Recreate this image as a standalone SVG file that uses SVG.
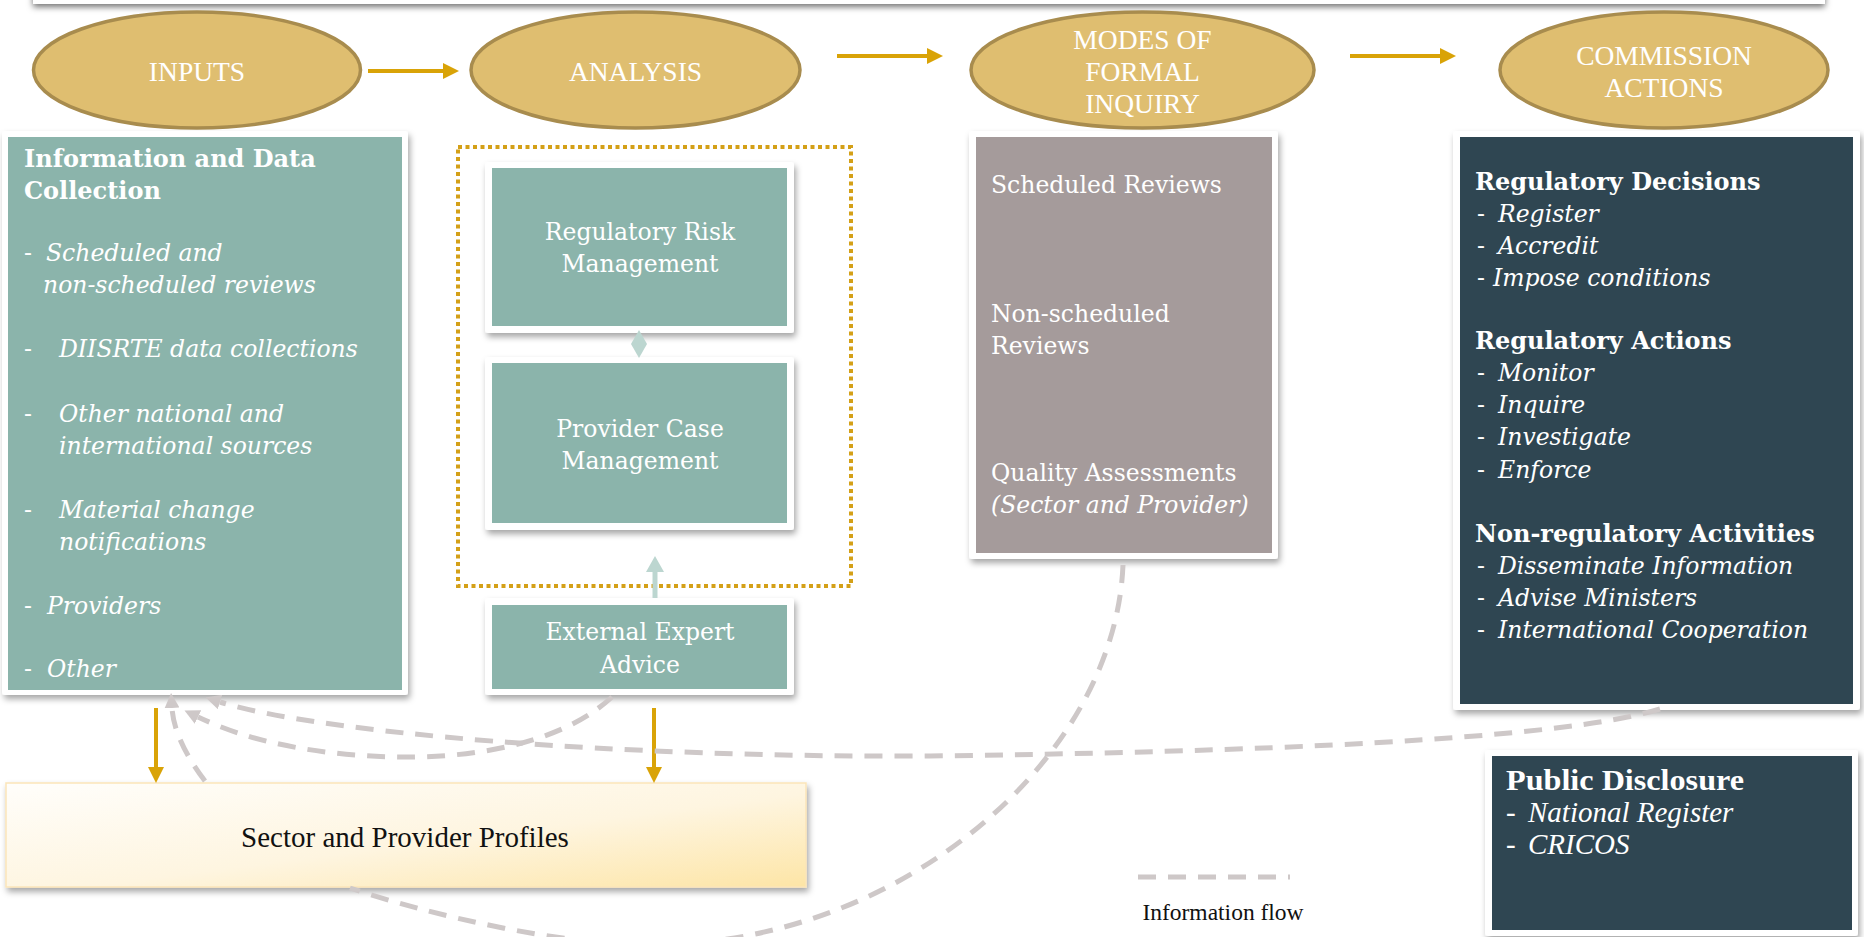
<svg xmlns="http://www.w3.org/2000/svg" width="1864" height="937" viewBox="0 0 1864 937">
<defs>
  <filter id="shadow" x="-10%" y="-10%" width="120%" height="130%">
    <feDropShadow dx="2" dy="4" stdDeviation="3" flood-color="#000" flood-opacity="0.35"/>
  </filter>
  <filter id="barShadow" x="-5%" y="-50%" width="110%" height="250%">
    <feDropShadow dx="0" dy="3" stdDeviation="3" flood-color="#000" flood-opacity="0.55"/>
  </filter>
  <linearGradient id="profileFill" x1="0" y1="0" x2="1" y2="1">
    <stop offset="0" stop-color="#FFFEFB"/>
    <stop offset="0.55" stop-color="#FEF5E0"/>
    <stop offset="1" stop-color="#FDE5A6"/>
  </linearGradient>
  <marker id="goldHead" markerUnits="userSpaceOnUse" markerWidth="16" markerHeight="16" viewBox="0 0 16 16" refX="0" refY="8" orient="auto">
    <path d="M0,0 L16,8 L0,16 Z" fill="#D9A307"/>
  </marker>
  <marker id="flowHead" markerUnits="userSpaceOnUse" markerWidth="15" markerHeight="15" viewBox="0 0 15 15" refX="0" refY="7.5" orient="auto">
    <path d="M0,0 L15,7.5 L0,15 Z" fill="#CEC8C8"/>
  </marker>
</defs>
<style>
  .frame { fill: #fff; filter: url(#shadow); }
  .teal { fill: #8BB4AB; }
  .mauve { fill: #A59B9B; }
  .slate { fill: #2F4652; }
  .oval { fill: #DFBE70; stroke: #A88C4E; stroke-width: 3.5; }
  .txt { font-family: "DejaVu Serif", "Liberation Serif", serif; font-size: 23.5px; fill: #fff; }
  .hd { font-weight: bold; font-size: 24px; }
  .it { font-style: italic; }
  .mid { text-anchor: middle; }
  .cond { font-family: "Liberation Serif", "DejaVu Serif", serif; fill: #fff; }
  .dark { fill: #111; }
  .oval-lbl { font-size: 27.5px; text-anchor: middle; }
  .gold { stroke: #D9A307; stroke-width: 4; fill: none; marker-end: url(#goldHead); }
  .flow { stroke: #CEC8C8; stroke-width: 5; fill: none; stroke-dasharray: 18 12; }
  .flow-end { marker-end: url(#flowHead); }
</style>

<!-- page header strip -->
<rect x="33" y="-30" width="1792" height="34" fill="#fff" filter="url(#barShadow)"/>

<!-- stage ovals -->
<g id="stage-inputs">
  <ellipse class="oval" cx="197" cy="70" rx="163.5" ry="58"/>
  <text class="cond oval-lbl" x="197" y="81">INPUTS</text>
</g>
<g id="stage-analysis">
  <ellipse class="oval" cx="635.5" cy="70" rx="164.5" ry="58"/>
  <text class="cond oval-lbl" x="635.5" y="81">ANALYSIS</text>
</g>
<g id="stage-inquiry">
  <ellipse class="oval" cx="1142.5" cy="70" rx="171.5" ry="58"/>
  <text class="cond oval-lbl" x="1142.5" y="49">MODES OF</text>
  <text class="cond oval-lbl" x="1142.5" y="81">FORMAL</text>
  <text class="cond oval-lbl" x="1142.5" y="113">INQUIRY</text>
</g>
<g id="stage-actions">
  <ellipse class="oval" cx="1664" cy="70" rx="164" ry="58"/>
  <text class="cond oval-lbl" x="1664" y="65">COMMISSION</text>
  <text class="cond oval-lbl" x="1664" y="97">ACTIONS</text>
</g>

<!-- inputs column -->
<g id="info-collection">
  <rect class="frame" x="2" y="131" width="406" height="564" rx="3"/>
  <rect class="teal" x="8" y="137" width="394" height="553"/>
  <text class="txt hd" x="24" y="167">Information and Data</text>
  <text class="txt hd" x="24" y="199">Collection</text>
  <text class="txt" x="24" y="261">-</text>
  <text class="txt it" x="46" y="261">Scheduled and</text>
  <text class="txt it" x="43" y="293">non-scheduled reviews</text>
  <text class="txt" x="24" y="357">-</text>
  <text class="txt it" x="59" y="357">DIISRTE data collections</text>
  <text class="txt" x="24" y="422">-</text>
  <text class="txt it" x="59" y="422">Other national  and</text>
  <text class="txt it" x="59" y="454">international sources</text>
  <text class="txt" x="24" y="518">-</text>
  <text class="txt it" x="59" y="518">Material change</text>
  <text class="txt it" x="59" y="550">notifications</text>
  <text class="txt" x="24" y="614">-</text>
  <text class="txt it" x="47" y="614">Providers</text>
  <text class="txt" x="24" y="677">-</text>
  <text class="txt it" x="47" y="677">Other</text>
</g>

<!-- analysis column -->
<g id="analysis-core">
  <rect x="458" y="147" width="393" height="439" fill="none" stroke="#D4A017" stroke-width="4" stroke-dasharray="4 3.5"/>
</g>
<g id="risk-management">
  <rect class="frame" x="485" y="162" width="309" height="171" rx="3"/>
  <rect class="teal" x="492" y="168" width="295" height="158"/>
  <text class="txt mid" x="640" y="240">Regulatory Risk</text>
  <text class="txt mid" x="640" y="272">Management</text>
</g>
<g id="case-management">
  <rect class="frame" x="485" y="357" width="309" height="173" rx="3"/>
  <rect class="teal" x="492" y="363" width="295" height="160"/>
  <text class="txt mid" x="640" y="437">Provider Case</text>
  <text class="txt mid" x="640" y="469">Management</text>
</g>
<g id="expert-advice">
  <rect class="frame" x="485" y="598" width="309" height="97" rx="3"/>
  <rect class="teal" x="492" y="605" width="295" height="84"/>
  <text class="txt mid" x="640" y="640">External Expert</text>
  <text class="txt mid" x="640" y="673">Advice</text>
</g>

<!-- formal inquiry column -->
<g id="inquiry-modes">
  <rect class="frame" x="969" y="131" width="309" height="428" rx="3"/>
  <rect class="mauve" x="976" y="137" width="296" height="416"/>
  <text class="txt" x="991" y="193">Scheduled Reviews</text>
  <text class="txt" x="991" y="322">Non-scheduled</text>
  <text class="txt" x="991" y="354">Reviews</text>
  <text class="txt" x="991" y="481">Quality Assessments</text>
  <text class="txt it" x="991" y="513">(Sector and Provider)</text>
</g>

<!-- commission actions column -->
<g id="commission-actions">
  <rect class="frame" x="1453" y="131" width="407" height="579" rx="3"/>
  <rect class="slate" x="1460" y="137" width="393" height="567"/>
  <text class="txt hd" x="1475" y="190">Regulatory Decisions</text>
  <text class="txt" x="1477" y="222">-</text>
  <text class="txt it" x="1498" y="222">Register</text>
  <text class="txt" x="1477" y="254">-</text>
  <text class="txt it" x="1498" y="254">Accredit</text>
  <text class="txt" x="1477" y="286">-</text>
  <text class="txt it" x="1493" y="286">Impose conditions</text>
  <text class="txt hd" x="1475" y="349">Regulatory Actions</text>
  <text class="txt" x="1477" y="381">-</text>
  <text class="txt it" x="1498" y="381">Monitor</text>
  <text class="txt" x="1477" y="413">-</text>
  <text class="txt it" x="1498" y="413">Inquire</text>
  <text class="txt" x="1477" y="445">-</text>
  <text class="txt it" x="1498" y="445">Investigate</text>
  <text class="txt" x="1477" y="478">-</text>
  <text class="txt it" x="1498" y="478">Enforce</text>
  <text class="txt hd" x="1475" y="542">Non-regulatory Activities</text>
  <text class="txt" x="1477" y="574">-</text>
  <text class="txt it" x="1498" y="574">Disseminate Information</text>
  <text class="txt" x="1477" y="606">-</text>
  <text class="txt it" x="1498" y="606">Advise Ministers</text>
  <text class="txt" x="1477" y="638">-</text>
  <text class="txt it" x="1498" y="638">International Cooperation</text>
</g>

<g id="public-disclosure">
  <rect class="frame" x="1485" y="750" width="373" height="186" rx="3"/>
  <rect class="slate" x="1492" y="756" width="360" height="174"/>
  <text class="cond" x="1506" y="790" font-size="30" font-weight="bold" textLength="238" lengthAdjust="spacingAndGlyphs">Public Disclosure</text>
  <text class="cond" x="1506" y="822" font-size="29">-</text>
  <text class="cond" x="1528" y="822" font-size="29" font-style="italic">National Register</text>
  <text class="cond" x="1506" y="854" font-size="29">-</text>
  <text class="cond" x="1528" y="854" font-size="29" font-style="italic">CRICOS</text>
</g>

<!-- shared profile store -->
<g id="sector-profiles">
  <rect x="6" y="783" width="800" height="104" fill="url(#profileFill)" stroke="#FBE5B9" stroke-width="1.5" filter="url(#shadow)"/>
  <text class="cond dark" x="405" y="847" font-size="29" text-anchor="middle">Sector and Provider Profiles</text>
</g>

<!-- legend -->
<g id="legend">
  <line class="flow" x1="1138" y1="877" x2="1290" y2="877"/>
  <text class="cond dark" x="1223" y="920" font-size="23.5" text-anchor="middle">Information flow</text>
</g>

<!-- connectors -->
<g id="connectors">
  <!-- stage sequence -->
  <path class="gold" d="M368,71 H443"/>
  <path class="gold" d="M837,56 H927"/>
  <path class="gold" d="M1350,56 H1440"/>
  <!-- inputs and expert advice feeding the profiles -->
  <path class="gold" d="M156,708 V767"/>
  <path class="gold" d="M654,708 V767"/>
  <!-- risk and case management link -->
  <polygon points="639,330 647,344 639,358 631,344" fill="#BCD6D0"/>
  <!-- expert advice into analysis -->
  <line x1="655" y1="598" x2="655" y2="571" stroke="#BCD6D0" stroke-width="5"/>
  <polygon points="646,572 664,572 655,556" fill="#BCD6D0"/>
  <!-- information flows -->
  <path class="flow flow-end" d="M205,781 Q174,740 172,708"/>
  <path class="flow flow-end" d="M1660,709 C1560,740 1250,752 930,756 C620,758 320,733 220,702"/>
  <path class="flow flow-end" d="M612,697 C560,745 470,758 400,757 C320,756 250,742 198,717"/>
  <path class="flow" d="M1123,565 C1115,760 900,945 650,945 C560,945 430,915 350,888"/>
</g>
</svg>
